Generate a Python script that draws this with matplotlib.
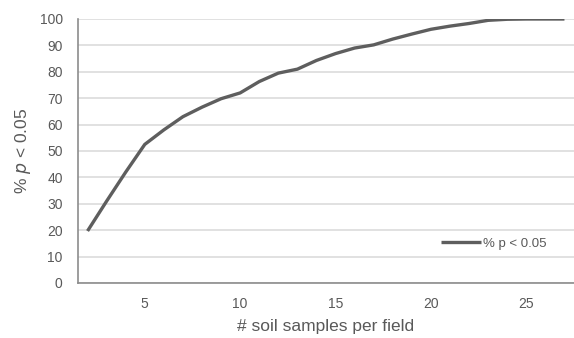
import matplotlib
matplotlib.use("Agg")
import matplotlib.pyplot as plt

# data
samples = list(range(2, 28))
pct_sig = [19.7, 31.0, 42.0, 52.5, 58.0, 63.0, 66.6, 69.8, 72.0, 76.3,
           79.5, 81.0, 84.3, 86.9, 89.0, 90.2, 92.4, 94.3, 96.1, 97.3,
           98.3, 99.5, 99.9, 100.0, 100.0, 100.0]
x_ticks = [5, 10, 15, 20, 25]
y_ticks = list(range(0, 101, 10))

GREY_TXT = "#595959"
LINE_COL = "#5e5e5e"

plt.rcParams["font.family"] = ["Liberation Sans", "DejaVu Sans"]

fig = plt.figure(figsize=(5.74, 3.38), dpi=100)
ax = fig.add_axes([78 / 574, 1 - 283 / 338, 1 - 78 / 574, (283 - 19) / 338])

#grid + spines##################################
ax.set_axisbelow(True)
ax.yaxis.grid(True, color="#d9d9d9", linewidth=1.1)
for side in ["top", "right"]:
    ax.spines[side].set_visible(False)
ax.spines["left"].set_color("#8c8c8c")
ax.spines["bottom"].set_color("#8c8c8c")
ax.spines["left"].set_linewidth(1.2)
ax.spines["bottom"].set_linewidth(1.2)

#line##########################################
ax.plot(samples, pct_sig, color=LINE_COL, linewidth=2.4,
        solid_capstyle="butt", label="% p < 0.05")

ax.set_xlim(1.5, 27.5)
ax.set_ylim(0, 100)
ax.set_xticks(x_ticks)
ax.set_yticks(y_ticks)
ax.tick_params(axis="both", length=0, labelsize=10, labelcolor=GREY_TXT)
ax.tick_params(axis="x", pad=10)
ax.tick_params(axis="y", pad=11)

ax.set_xlabel("# soil samples per field", fontsize=12.5, color=GREY_TXT, labelpad=6)
ax.set_ylabel("% $\\it{p}$ < 0.05", fontsize=12.5, color=GREY_TXT, labelpad=5)

ax.legend(loc="center left", bbox_to_anchor=(0.732, 0.148), frameon=False,
          fontsize=9.5, labelcolor=GREY_TXT, handlelength=3.0,
          handletextpad=0.2, borderpad=0, borderaxespad=0)

fig.savefig("out.png", dpi=100)
